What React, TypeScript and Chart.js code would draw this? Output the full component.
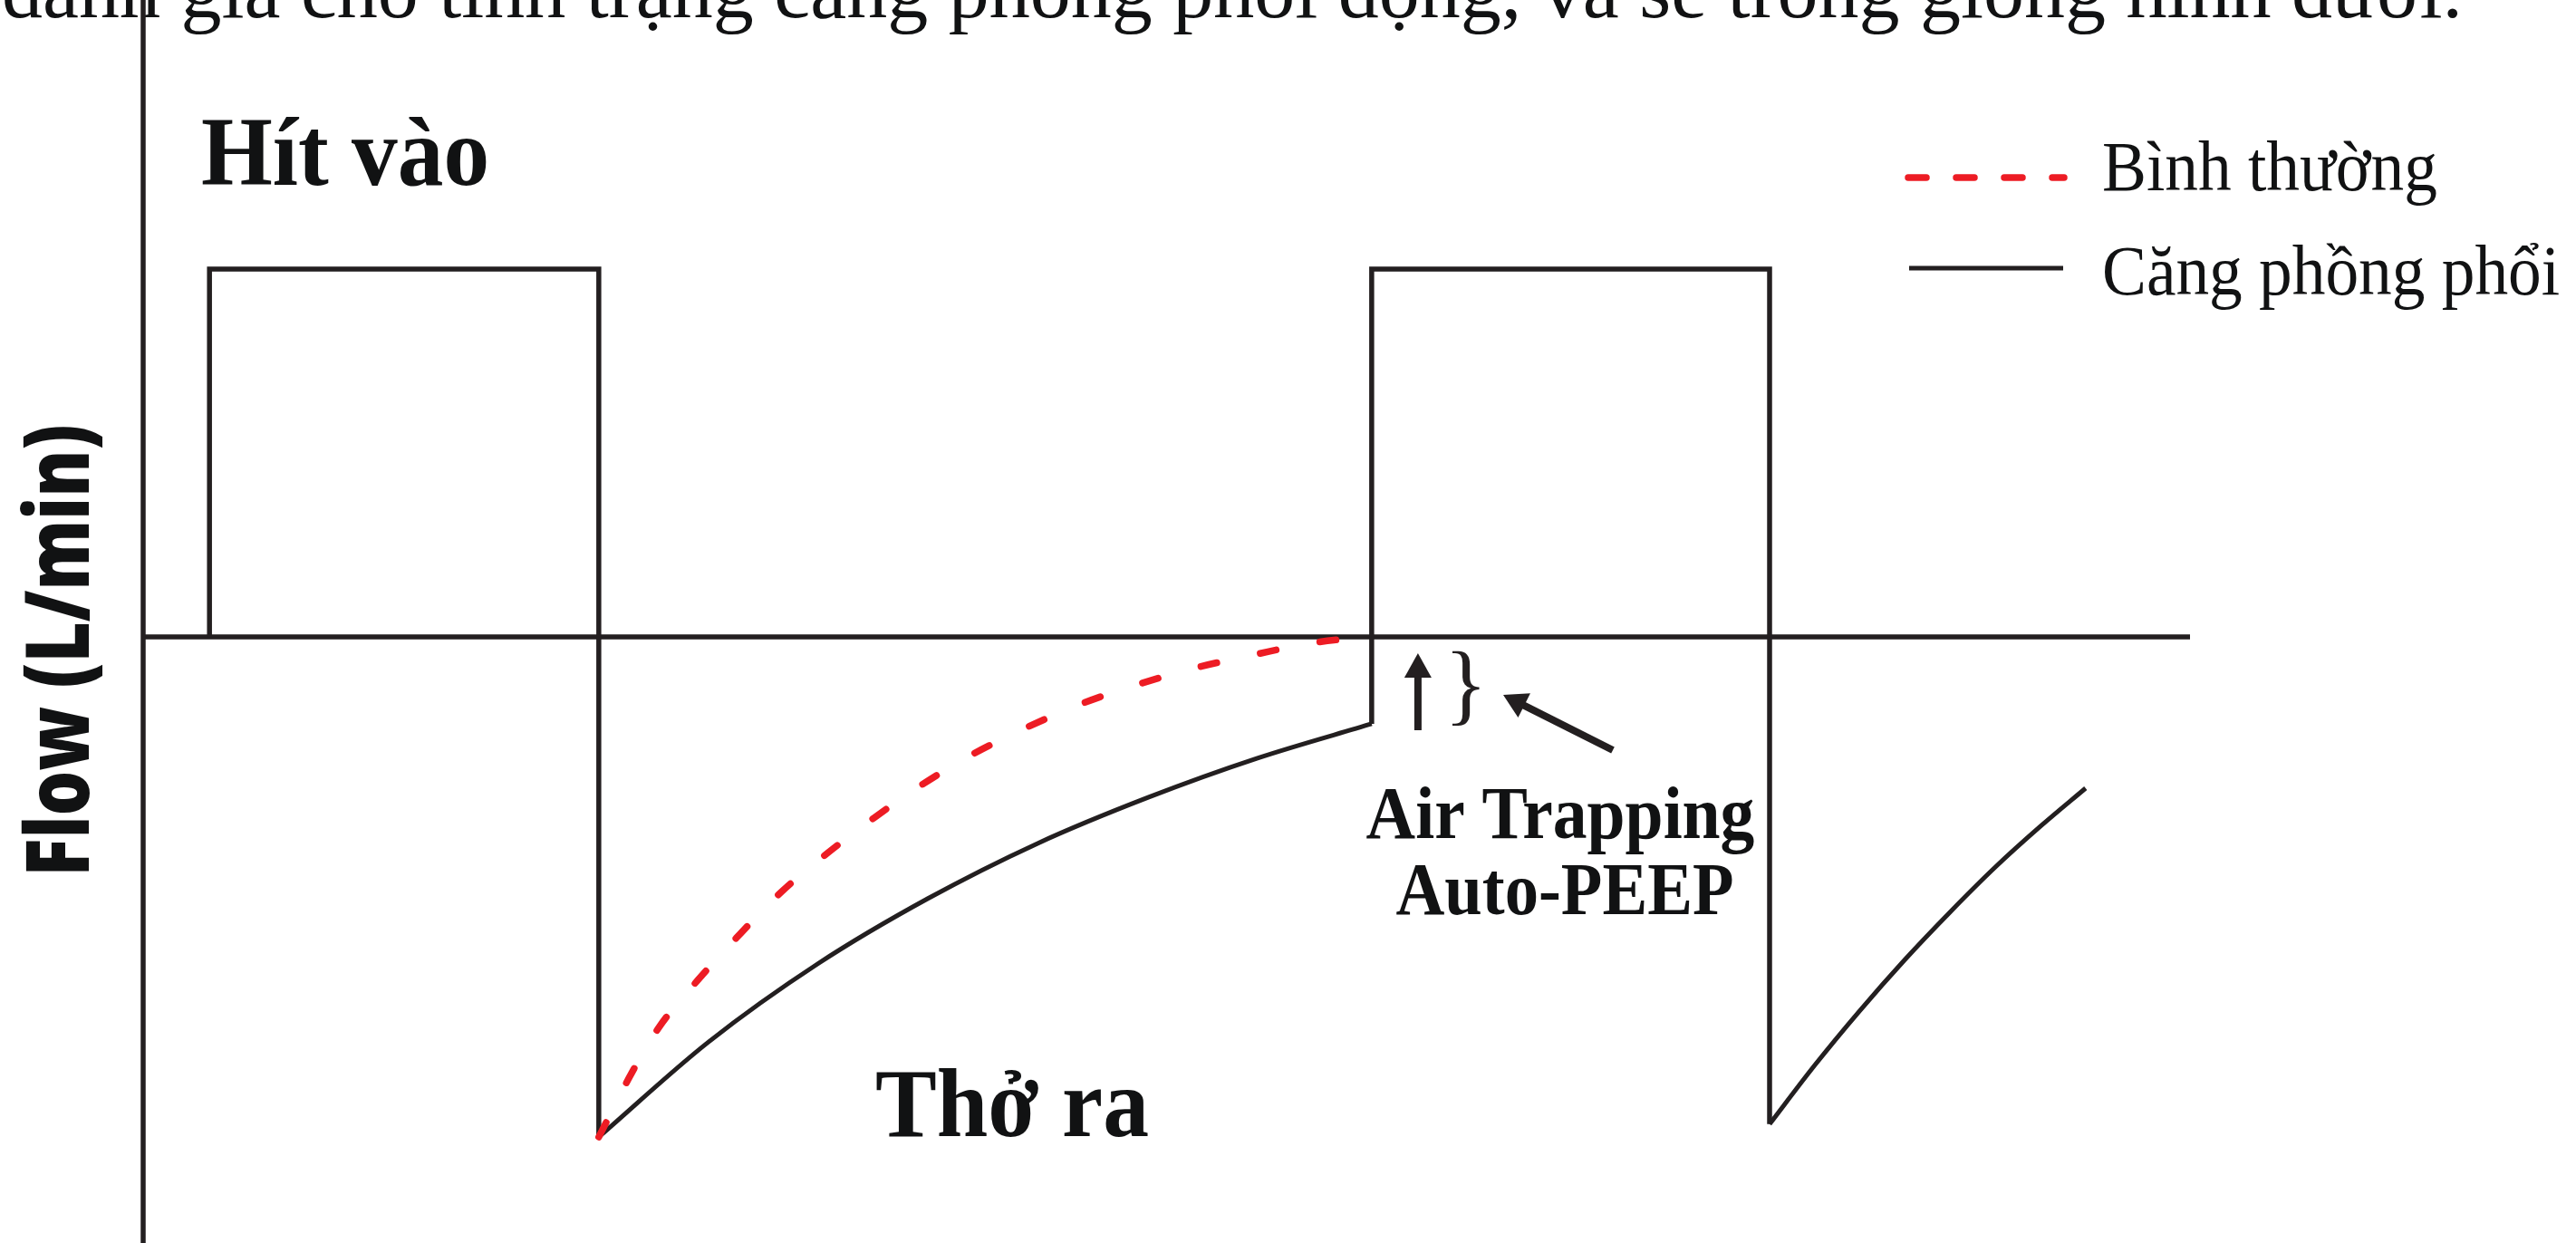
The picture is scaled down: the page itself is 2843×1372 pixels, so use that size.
import React, { useEffect, useRef } from "react";
import { Chart, registerables } from "chart.js";

Chart.register(...registerables);

const W = 2843;
const H = 1372;

// Time axis in seconds, flow in L/min
const normalTime = [1.113, 1.193, 1.259, 1.355, 1.448, 1.556, 1.662, 1.784, 1.903, 2.025, 2.158, 2.293, 2.428, 2.574, 2.709, 2.855, 2.99];
const normalFlow = [-81.6, -71.2, -63.8, -56.0, -49.2, -41.8, -35.8, -29.6, -24.1, -19.2, -14.8, -10.9, -7.8, -5.0, -3.0, -1.0, 0];

// Square inspiratory waves and the vertical jumps (null breaks the line)
const breathTime = [0.162, 0.162, 1.113, 1.113, 2.0, 3.001, 3.001, 3.973, 3.973];
const breathFlow = [0, 60, 60, -81.6, null, -14.2, 60, 60, -79.5];

// Expiratory curves with air trapping
const exhale1Time = [1.113, 1.381, 1.649, 1.917, 2.185, 2.455, 2.722, 3.001];
const exhale1Flow = [-81.6, -66.1, -53.3, -42.7, -33.7, -26.2, -19.8, -14.2];
const exhale2Time = [3.973, 4.082, 4.192, 4.303, 4.414, 4.524, 4.635, 4.745];
const exhale2Flow = [-79.5, -70.0, -61.1, -52.7, -44.9, -37.6, -30.9, -24.7];

const legendLabels = ["Bình thường", "Căng phồng phổi"];
const yTitle = "Flow (L/min)";
const inspLabel = "Hít vào";
const expLabel = "Thở ra";
const trapLabels = ["Air Trapping", "Auto-PEEP"];
const headerText = "đánh giá cho tình trạng căng phồng phổi động, và sẽ trông giống hình dưới.";

const INK = "#231f20";
const TEXT = "#111213";
const RED = "#ed1c24";
const SERIF = '"Liberation Serif", "DejaVu Serif", serif';
const SANS = '"Open Sans", "Noto Sans", sans-serif';

const pts = (xs: number[], ys: (number | null)[]) => xs.map((x, i) => ({ x, y: ys[i] }));

function scaledText(
  ctx: CanvasRenderingContext2D,
  text: string,
  x: number,
  y: number,
  font: string,
  align: CanvasTextAlign,
  sx: number
) {
  ctx.save();
  ctx.font = font;
  ctx.fillStyle = TEXT;
  ctx.textBaseline = "alphabetic";
  ctx.textAlign = align;
  ctx.translate(x, y);
  ctx.scale(sx, 1);
  ctx.fillText(text, 0, 0);
  ctx.restore();
}

function arrow(ctx: CanvasRenderingContext2D, x1: number, y1: number, x2: number, y2: number, shaft: number, headLen: number, headW: number) {
  const ang = Math.atan2(y2 - y1, x2 - x1);
  const bx = x2 - Math.cos(ang) * headLen;
  const by = y2 - Math.sin(ang) * headLen;
  ctx.save();
  ctx.strokeStyle = INK;
  ctx.fillStyle = INK;
  ctx.lineWidth = shaft;
  ctx.lineCap = "butt";
  ctx.beginPath();
  ctx.moveTo(x1, y1);
  ctx.lineTo(bx + Math.cos(ang) * 2, by + Math.sin(ang) * 2);
  ctx.stroke();
  const px = -Math.sin(ang) * headW / 2;
  const py = Math.cos(ang) * headW / 2;
  ctx.beginPath();
  ctx.moveTo(x2, y2);
  ctx.lineTo(bx + px, by + py);
  ctx.lineTo(bx - px, by - py);
  ctx.closePath();
  ctx.fill();
  ctx.restore();
}

const decorations = {
  id: "decorations",
  beforeDatasetsDraw(chart: any) {
    const { ctx, chartArea, scales } = chart;
    const y0 = scales.y.getPixelForValue(0);

    // header sentence, cut by the top edge
    ctx.save();
    ctx.font = `88px ${SERIF}`;
    const hw = ctx.measureText(headerText).width;
    ctx.restore();
    scaledText(ctx, headerText, 2, 19, `88px ${SERIF}`, "left", 2716 / hw);

    ctx.save();
    ctx.strokeStyle = INK;
    ctx.lineWidth = 5.5;
    ctx.beginPath();
    ctx.moveTo(chartArea.left, y0);
    ctx.lineTo(chartArea.right, y0);
    ctx.stroke();
    ctx.beginPath();
    ctx.moveTo(chartArea.left, 0);
    ctx.lineTo(chartArea.left, H);
    ctx.stroke();
    ctx.restore();
  },
  afterDatasetsDraw(chart: any) {
    const { ctx, scales } = chart;
    const y0 = scales.y.getPixelForValue(0);

    // y-axis title
    ctx.save();
    ctx.font = `800 98px ${SANS}`;
    const tw = ctx.measureText(yTitle).width;
    ctx.translate(98, 718);
    ctx.rotate(-Math.PI / 2);
    ctx.scale(499 / tw, 1);
    ctx.fillStyle = TEXT;
    ctx.textAlign = "center";
    ctx.textBaseline = "alphabetic";
    ctx.fillText(yTitle, 0, 0);
    ctx.restore();

    scaledText(ctx, inspLabel, 222, 204, `bold 109px ${SERIF}`, "left", 0.93);
    scaledText(ctx, expLabel, 966, 1254, `bold 107px ${SERIF}`, "left", 0.95);
    scaledText(ctx, trapLabels[0], 1722, 925, `bold 83px ${SERIF}`, "center", 0.91);
    scaledText(ctx, trapLabels[1], 1727, 1009, `bold 82px ${SERIF}`, "center", 0.91);

    // auto-PEEP marker: arrow from the end-expiratory flow toward zero, brace and pointer
    const ax = scales.x.getPixelForValue(3.114);
    const yEnd = scales.y.getPixelForValue(-14.2);
    arrow(ctx, ax, yEnd + 7, ax, y0 + 18, 8, 27, 30);
    ctx.save();
    ctx.font = `99px ${SERIF}`;
    ctx.fillStyle = INK;
    ctx.textBaseline = "alphabetic";
    ctx.textAlign = "left";
    ctx.fillText("}", 1594, 788);
    ctx.restore();
    arrow(ctx, 1780, 828, 1659, 767, 8, 26, 30);

    // legend
    const ds = chart.data.datasets;
    ctx.save();
    ctx.strokeStyle = ds[0].borderColor;
    ctx.lineWidth = 7.5;
    ctx.lineCap = "round";
    ctx.setLineDash([20, 33]);
    ctx.beginPath();
    ctx.moveTo(2106, 196);
    ctx.lineTo(2278, 196);
    ctx.stroke();
    ctx.setLineDash([]);
    ctx.strokeStyle = ds[1].borderColor;
    ctx.lineWidth = 5;
    ctx.lineCap = "butt";
    ctx.beginPath();
    ctx.moveTo(2107, 296);
    ctx.lineTo(2277, 296);
    ctx.stroke();
    ctx.restore();
    scaledText(ctx, ds[0].label, 2320, 210, `78px ${SERIF}`, "left", 0.94);
    scaledText(ctx, ds[1].label, 2320, 325, `78px ${SERIF}`, "left", 0.94);
  },
};

export default function App() {
  const ref = useRef<HTMLCanvasElement | null>(null);

  useEffect(() => {
    if (!ref.current) return;
    const chart = new Chart(ref.current, {
      type: "line",
      data: {
        datasets: [
          {
            label: legendLabels[0],
            data: pts(normalTime, normalFlow),
            borderColor: RED,
            borderWidth: 7.5,
            borderDash: [18, 49],
            borderCapStyle: "round",
            cubicInterpolationMode: "monotone",
            pointRadius: 0,
            fill: false,
          },
          {
            label: legendLabels[1],
            data: pts(breathTime, breathFlow),
            borderColor: INK,
            borderWidth: 5.5,
            borderJoinStyle: "miter",
            tension: 0,
            spanGaps: false,
            pointRadius: 0,
            fill: false,
          },
          {
            label: legendLabels[1],
            data: pts(exhale1Time, exhale1Flow),
            borderColor: INK,
            borderWidth: 5,
            cubicInterpolationMode: "monotone",
            pointRadius: 0,
            fill: false,
          },
          {
            label: legendLabels[1],
            data: pts(exhale2Time, exhale2Flow),
            borderColor: INK,
            borderWidth: 5,
            cubicInterpolationMode: "monotone",
            pointRadius: 0,
            fill: false,
          },
        ],
      },
      options: {
        animation: false,
        responsive: false,
        devicePixelRatio: 1,
        layout: { padding: { left: 158, right: W - 2417, top: 0, bottom: 0 } },
        scales: {
          x: { type: "linear", min: 0, max: 5, display: false },
          y: { type: "linear", min: -98.9, max: 103.9, display: false },
        },
        plugins: {
          legend: { display: false },
          tooltip: { enabled: false },
        },
      },
      plugins: [decorations],
    });
    return () => chart.destroy();
  }, []);

  return (
    <div style={{ position: "fixed", left: 0, top: 0, width: W, height: H, background: "#fff" }}>
      <canvas ref={ref} width={W} height={H} style={{ display: "block", width: W, height: H }} />
    </div>
  );
}
